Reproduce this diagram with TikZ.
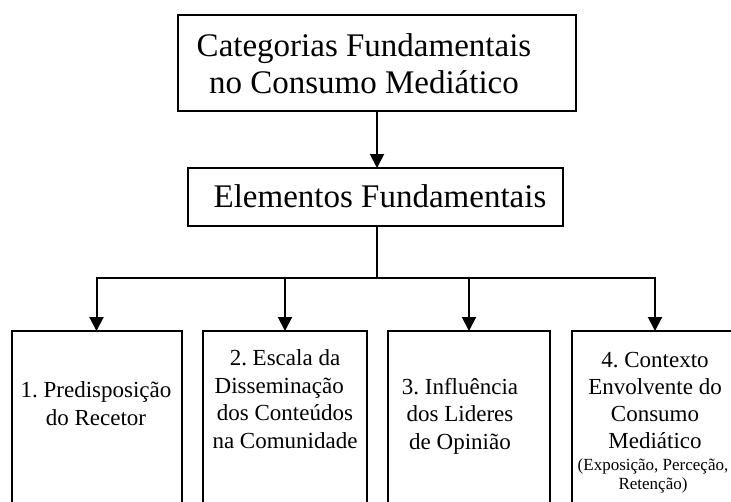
\documentclass[tikz,border=0pt]{standalone}
\usepackage{fontspec}
\setmainfont{Liberation Serif}
\usetikzlibrary{arrows.meta}
\frenchspacing
\begin{document}
\begin{tikzpicture}[x=1pt,y=-1pt,
  boxst/.style={draw=black,line width=2pt,inner sep=0pt,outer sep=0pt},
  bigtxt/.style={inner sep=0pt,align=center,font=\fontsize{33}{37}\selectfont},
  midtxt/.style={inner sep=0pt,align=center,font=\fontsize{23}{27.5}\selectfont},
  smalltxt/.style={inner sep=0pt,align=center,font=\fontsize{17}{18.5}\selectfont},
  conn/.style={line width=2pt,draw=black},
  arr/.style={conn,-{Triangle[width=14pt,length=14pt]}}]
\useasboundingbox (0,0) rectangle (731,501);
\clip (0,0) rectangle (731,501);
% top box
\node[boxst,minimum width=398,minimum height=96] (catbox) at (377,63) {};
\node[bigtxt] (cattxt) at (364,64) {Categorias Fundamentais\\no Consumo Mediático};
% elementos box
\node[boxst,minimum width=375,minimum height=58] (elembox) at (375.5,197) {};
\node[bigtxt] (elemtxt) at (380,196) {Elementos Fundamentais};
% bottom boxes
\node[boxst,minimum width=170,minimum height=200,anchor=north] (b1) at (96.5,331) {};
\node[boxst,minimum width=164,minimum height=200,anchor=north] (b2) at (285,331) {};
\node[boxst,minimum width=162,minimum height=200,anchor=north] (b3) at (469,331) {};
\node[boxst,minimum width=166,minimum height=200,anchor=north] (b4) at (655,331) {};
\node[midtxt,font=\fontsize{23}{28}\selectfont] (t1) at (96,404) {1. Predisposição\\do Recetor};
\node[midtxt] (t2) at (285,399) {2. Escala da\\Disseminação\hphantom{x}\\dos Conteúdos\\na Comunidade};
\node[midtxt] (t3) at (460,416) {3. Influência\\dos Lideres\\de Opinião};
\node[midtxt,font=\fontsize{23}{27}\selectfont] (t4) at (655,400) {4. Contexto\\Envolvente do\\Consumo\\Mediático};
\node[smalltxt] (t4s) at (653,476) {(Exposição, Perceção,\\Retenção)};
% connectors
\coordinate (hub) at (377,278);
\coordinate (h1) at (b1.north |- hub);
\coordinate (h2) at (b2.north |- hub);
\coordinate (h3) at (b3.north |- hub);
\coordinate (h4) at (b4.north |- hub);
\draw[arr] (catbox.south) -- (catbox.south |- elembox.north);
\draw[conn] (elembox.south -| hub) -- (hub);
\draw[conn,line cap=rect] (h1) -- (h4);
\draw[arr] (h1) -- (b1.north);
\draw[arr] (h2) -- (b2.north);
\draw[arr] (h3) -- (b3.north);
\draw[arr] (h4) -- (b4.north);
\end{tikzpicture}
\end{document}
